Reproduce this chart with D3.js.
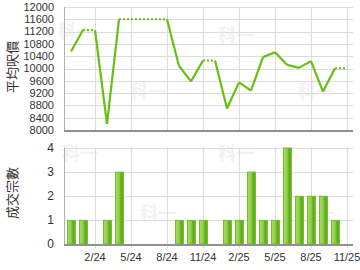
<!DOCTYPE html>
<html>
<head>
<meta charset="utf-8">
<script src="https://cdn.jsdelivr.net/npm/d3@7"></script>
<style>
  body { margin: 0; background: #fff; }
  svg { display: block; font-family: "Liberation Sans", Arial, sans-serif; }
</style>
</head>
<body>
<div id="chart"></div>
<script>
// months shown on the x axis (one band per month)
const months = ["12/23","1/24","2/24","3/24","4/24","5/24","6/24","7/24","8/24","9/24","10/24","11/24",
                "12/24","1/25","2/25","3/25","4/25","5/25","6/25","7/25","8/25","9/25","10/25","11/25"];
// average price per sq ft (null = no deals that month)
const avgPrice = [10550, 11250, null, 8200, 11600, null, null, null, null, 10080, 9580, 10260,
                  null, 8700, 9550, 9280, 10370, 10530, 10120, 10020, 10240, 9250, 10010, null];
// number of deals
const deals = [1, 1, 0, 1, 3, 0, 0, 0, 0, 1, 1, 1, 0, 1, 1, 3, 1, 1, 4, 2, 2, 2, 1, 0];
const xTickLabels = ["2/24","5/24","8/24","11/24","2/25","5/25","8/25","11/25"];
const priceTicks = [8000, 8400, 8800, 9200, 9600, 10000, 10400, 10800, 11200, 11600, 12000];
const dealTicks = [0, 1, 2, 3, 4];

const W = 360, H = 270;
const green = '#66c010';
const grid = '#dcdcdc';

const svg = d3.select('#chart').append('svg')
    .attr('width', W)
    .attr('height', H);

const defs = svg.append('defs');
const grad = defs.append('linearGradient').attr('id', 'barGrad')
    .attr('x1', '0%').attr('x2', '100%').attr('y1', '0%').attr('y2', '0%');
grad.append('stop').attr('offset', '0%').attr('stop-color', '#a6db68');
grad.append('stop').attr('offset', '45%').attr('stop-color', '#8fcf4a');
grad.append('stop').attr('offset', '75%').attr('stop-color', '#5aa81a');
grad.append('stop').attr('offset', '100%').attr('stop-color', '#7cc23a');

// shared x scale
const x = d3.scaleBand()
    .domain(months)
    .range([65, 353])
    .paddingInner(0.25)
    .paddingOuter(0.125);
const cx = m => x(m) + x.bandwidth() / 2;

// watermarks
const marks = [[76, 38], [148, 98], [236, 42], [316, 98], [80, 160], [158, 220], [236, 160], [316, 220]];
svg.append('g').selectAll('text').data(marks).join('text')
    .attr('x', d => d[0]).attr('y', d => d[1])
    .attr('text-anchor', 'middle')
    .attr('font-family', '"Noto Sans CJK TC", sans-serif')
    .attr('font-weight', 'bold')
    .attr('font-size', 18)
    .attr('fill', '#f2f2f2')
    .text('科一');

// ---------- top chart: average price ----------
const yP = d3.scaleLinear().domain([8000, 12000]).range([130, 7]);

const topG = svg.append('g');
topG.append('g').selectAll('line').data(priceTicks.slice(1)).join('line')
    .attr('x1', 65).attr('x2', 353)
    .attr('y1', d => Math.round(yP(d)) + 0.5).attr('y2', d => Math.round(yP(d)) + 0.5)
    .attr('stroke', grid);
topG.append('g').selectAll('line').data(xTickLabels).join('line')
    .attr('x1', d => Math.round(cx(d)) + 0.5).attr('x2', d => Math.round(cx(d)) + 0.5)
    .attr('y1', yP(12000)).attr('y2', yP(8000))
    .attr('stroke', grid);

// y axis labels
topG.append('g').selectAll('text').data(priceTicks).join('text')
    .attr('x', 54).attr('y', d => yP(d))
    .attr('dy', '0.35em')
    .attr('text-anchor', 'end')
    .attr('font-size', 11)
    .attr('fill', '#333')
    .text(d => d);

// axis lines
topG.append('line').attr('x1', 64.5).attr('x2', 64.5).attr('y1', yP(12000)).attr('y2', yP(8000))
    .attr('stroke', '#b0b0b0');
topG.append('line').attr('x1', 64).attr('x2', 353).attr('y1', yP(8000) + 1).attr('y2', yP(8000) + 1)
    .attr('stroke', '#909090').attr('stroke-width', 2);

// build solid and dotted segments; gaps carry previous value forward
const segs = [];
let carry = avgPrice[0];
for (let i = 1; i < months.length; i++) {
    const v = avgPrice[i];
    if (v != null) {
        segs.push({ dotted: false, pts: [[months[i - 1], carry], [months[i], v]] });
        carry = v;
    } else {
        segs.push({ dotted: true, pts: [[months[i - 1], carry], [months[i], carry]] });
    }
}
const line = d3.line().x(d => cx(d[0])).y(d => yP(d[1]));
topG.append('g').selectAll('path').data(segs).join('path')
    .attr('d', d => line(d.pts))
    .attr('fill', 'none')
    .attr('stroke', green)
    .attr('stroke-width', d => d.dotted ? 2 : 2.2)
    .attr('stroke-dasharray', d => d.dotted ? '2,2' : null)
    .attr('stroke-linejoin', 'round');

svg.append('text')
    .attr('transform', 'translate(17,67) rotate(-90)')
    .attr('text-anchor', 'middle')
    .attr('font-family', '"Noto Sans CJK TC", sans-serif')
    .attr('font-size', 13)
    .attr('fill', '#333')
    .text('平均呎價');

// ---------- bottom chart: deals ----------
const yD = d3.scaleLinear().domain([0, 4]).range([244, 147.5]);
const botG = svg.append('g');

botG.append('g').selectAll('line').data(dealTicks.slice(1)).join('line')
    .attr('x1', 65).attr('x2', 353)
    .attr('y1', d => Math.round(yD(d)) + 0.5).attr('y2', d => Math.round(yD(d)) + 0.5)
    .attr('stroke', grid);
botG.append('g').selectAll('line').data(xTickLabels).join('line')
    .attr('x1', d => Math.round(cx(d)) + 0.5).attr('x2', d => Math.round(cx(d)) + 0.5)
    .attr('y1', yD(4)).attr('y2', yD(0) + 4)
    .attr('stroke', grid);

botG.append('g').selectAll('rect').data(months.map((m, i) => ({ m, v: deals[i] })).filter(d => d.v > 0)).join('rect')
    .attr('x', d => Math.round(x(d.m)) + 0.5)
    .attr('width', Math.round(x.bandwidth()) - 1)
    .attr('y', d => yD(d.v) + 0.5)
    .attr('height', d => yD(0) - yD(d.v) - 0.5)
    .attr('fill', 'url(#barGrad)')
    .attr('stroke', '#74c02c')
    .attr('stroke-width', 1);

botG.append('g').selectAll('text').data(dealTicks).join('text')
    .attr('x', 54).attr('y', d => yD(d))
    .attr('dy', '0.35em')
    .attr('text-anchor', 'end')
    .attr('font-size', 12)
    .attr('fill', '#333')
    .text(d => d);

botG.append('line').attr('x1', 64.5).attr('x2', 64.5).attr('y1', yD(4)).attr('y2', yD(0))
    .attr('stroke', '#b0b0b0');
botG.append('line').attr('x1', 64).attr('x2', 353).attr('y1', yD(0) + 1).attr('y2', yD(0) + 1)
    .attr('stroke', '#909090').attr('stroke-width', 2);

botG.append('g').selectAll('text').data(xTickLabels).join('text')
    .attr('x', d => cx(d)).attr('y', 257)
    .attr('dy', '0.35em')
    .attr('text-anchor', 'middle')
    .attr('font-size', 11)
    .attr('fill', '#333')
    .text(d => d);

svg.append('text')
    .attr('transform', 'translate(17,193) rotate(-90)')
    .attr('text-anchor', 'middle')
    .attr('font-family', '"Noto Sans CJK TC", sans-serif')
    .attr('font-size', 13)
    .attr('fill', '#333')
    .text('成交宗數');
</script>
</body>
</html>
